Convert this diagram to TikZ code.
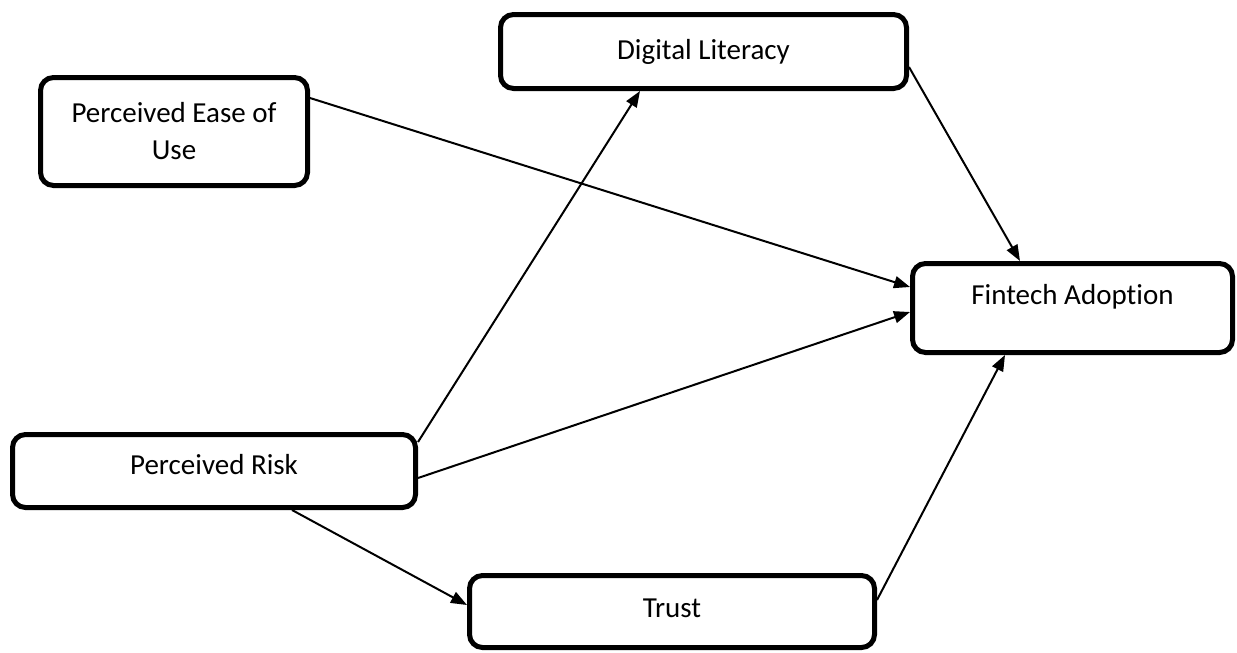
\documentclass[tikz,border=0pt]{standalone}
\usepackage{fontspec}
\setmainfont[Ligatures=NoCommon]{Carlito}
\usetikzlibrary{arrows.meta}
\tikzset{
  box/.style={draw=black, line width=5pt, rounded corners=13pt, fill=white, inner sep=0pt},
  txt/.style={font=\fontsize{29}{37}\selectfont, align=center, inner sep=0pt},
  conn/.style={draw=black, line width=2pt, -{Triangle[length=16pt,width=12pt]}}
}
\begin{document}
\begin{tikzpicture}[x=1pt,y=-1pt]
\useasboundingbox (0,0) rectangle (1237,653);
\node[box, minimum width=406pt, minimum height=74pt] (dl) at (703.5,51.5) {};
\node[txt] at (dl.center) {Digital Literacy};
\node[box, minimum width=267pt, minimum height=108pt] (peou) at (174,131.5) {};
\node[txt] at (peou.center) {Perceived Ease of\\Use};
\node[box, minimum width=320pt, minimum height=89pt] (fa) at (1072.5,308) {};
\node[txt] at ([yshift=11pt]fa.center) {Fintech Adoption};
\node[box, minimum width=403pt, minimum height=73pt] (pr) at (214,471) {};
\node[txt] at ([yshift=6pt]pr.center) {Perceived Risk};
\node[box, minimum width=405pt, minimum height=72pt] (trust) at (672,611.5) {};
\node[txt] at ([yshift=3.5pt]trust.center) {Trust};

\draw[conn] ([yshift=33.5pt]peou.east) -- ([yshift=21pt]fa.west);
\draw[conn] ([yshift=29pt]pr.east) -- ([xshift=-63.5pt]dl.south);
\draw[conn] ([yshift=-7pt]pr.east) -- ([yshift=-4pt]fa.west);
\draw[conn] ([xshift=78pt]pr.south) -- ([yshift=6.5pt]trust.west);
\draw[conn] ([yshift=-15.5pt]dl.east) -- ([xshift=-52.5pt]fa.north);
\draw[conn] ([yshift=11.5pt]trust.east) -- ([xshift=-67.5pt]fa.south);
\end{tikzpicture}
\end{document}
